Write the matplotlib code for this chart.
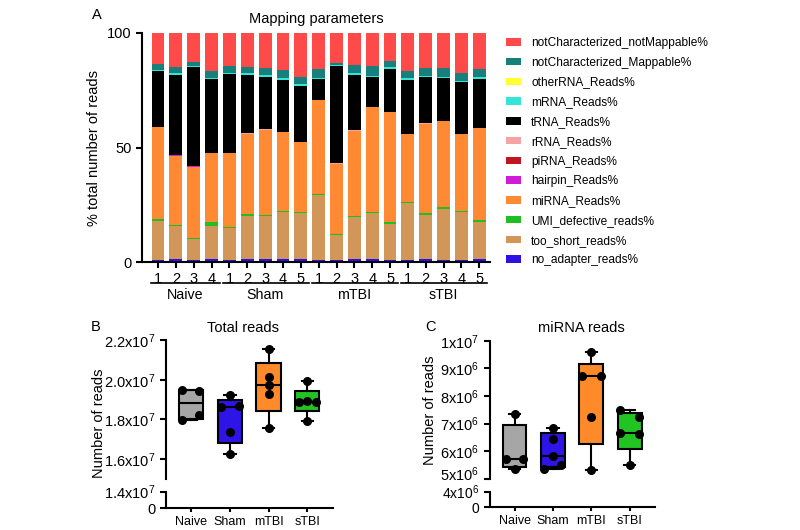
import matplotlib
matplotlib.use('Agg')
import matplotlib.pyplot as plt
import matplotlib.transforms as mtransforms
from matplotlib.patches import Patch
import numpy as np

plt.rcParams['font.family'] = ['Liberation Sans', 'DejaVu Sans']
plt.rcParams['mathtext.fontset'] = 'custom'
plt.rcParams['mathtext.rm'] = 'Liberation Sans'
plt.rcParams['mathtext.it'] = 'Liberation Sans:italic'

# ---- panel A data (percent of reads, bottom to top) ----
groups = ['Naive', 'Sham', 'mTBI', 'sTBI']
group_sizes = [4, 5, 5, 5]
sample_labels = ['1', '2', '3', '4', '1', '2', '3', '4', '5',
                 '1', '2', '3', '4', '5', '1', '2', '3', '4', '5']

no_adapter = [1.0, 1.3, 1.0, 1.4, 1.0, 1.4, 1.1, 1.2, 1.1, 1.0, 1.0, 1.1, 1.1, 0.9, 1.0, 1.3, 1.0, 1.0, 1.2]
too_short = [17.1, 14.3, 9.1, 14.3, 14.0, 18.8, 19.0, 20.6, 20.2, 28.1, 10.7, 18.6, 20.3, 15.9, 24.6, 19.4, 22.3, 20.7, 16.4]
umi_defective = [0.5, 0.6, 0.5, 1.9, 0.5, 0.6, 0.6, 0.6, 0.6, 0.6, 0.4, 0.6, 0.6, 0.5, 0.6, 0.6, 0.6, 0.6, 0.6]
mirna = [40.3, 30.3, 31.1, 29.9, 32.0, 35.2, 37.0, 34.3, 30.4, 40.9, 30.8, 37.0, 45.6, 48.0, 29.5, 39.0, 37.5, 33.5, 40.3]
hairpin = [0.05] * 19
pirna = [0.05] * 19
rrna = [0.1] * 19
trna = [24.1, 35.1, 43.2, 32.2, 34.4, 25.6, 23.1, 22.7, 24.5, 9.1, 42.3, 24.3, 12.8, 18.9, 23.7, 20.1, 18.6, 22.4, 21.3]
mrna = [0.8, 0.7, 0.6, 0.6, 0.6, 0.6, 0.6, 0.6, 0.7, 0.6, 0.6, 0.6, 0.6, 0.6, 0.6, 0.6, 0.6, 0.6, 0.6]
other_rna = [0.05] * 19
nc_mappable = [2.55, 2.55, 1.55, 2.85, 2.65, 2.85, 3.05, 3.45, 3.25, 3.75, 0.85, 3.55, 4.45, 2.55, 3.25, 3.45, 3.65, 3.45, 3.75]
nc_not_mappable = [13.4, 14.9, 12.7, 16.6, 14.6, 14.7, 15.3, 16.3, 19.0, 15.7, 13.1, 14.0, 14.3, 12.4, 16.5, 15.3, 15.5, 17.5, 15.6]

stack = [
    ('no_adapter_reads%', no_adapter, '#2d10e6'),
    ('too_short_reads%', too_short, '#d39659'),
    ('UMI_defective_reads%', umi_defective, '#1fbf22'),
    ('miRNA_Reads%', mirna, '#ff8a33'),
    ('hairpin_Reads%', hairpin, '#d21bd8'),
    ('piRNA_Reads%', pirna, '#c0141e'),
    ('rRNA_Reads%', rrna, '#f5a3a3'),
    ('tRNA_Reads%', trna, '#000000'),
    ('mRNA_Reads%', mrna, '#33e6d6'),
    ('otherRNA_Reads%', other_rna, '#ffff33'),
    ('notCharacterized_Mappable%', nc_mappable, '#17807d'),
    ('notCharacterized_notMappable%', nc_not_mappable, '#ff4a4a'),
]

# ---- panel B / C data ----
box_colors = ['#a6a6a6', '#2e14e6', '#ff8a2a', '#22c424']
total_reads = [
    [1.947e7, 1.945e7, 1.82e7, 1.795e7],
    [1.925e7, 1.862e7, 1.868e7, 1.735e7, 1.625e7],
    [2.155e7, 2.012e7, 1.972e7, 1.93e7, 1.758e7],
    [1.992e7, 1.89e7, 1.892e7, 1.888e7, 1.792e7],
]
total_offsets = [
    [-0.22, 0.22, 0.22, -0.22],
    [0, -0.22, 0.24, 0, 0],
    [0, 0, 0, 0, 0],
    [0, -0.22, 0, 0.22, 0],
]
mirna_reads = [
    [7.36e6, 5.73e6, 5.72e6, 5.35e6],
    [6.85e6, 6.46e6, 5.84e6, 5.52e6, 5.37e6],
    [9.59e6, 8.74e6, 8.72e6, 7.24e6, 5.31e6],
    [7.49e6, 7.25e6, 6.66e6, 6.64e6, 5.51e6],
]
mirna_offsets = [
    [0, -0.22, 0.22, 0],
    [0, 0, 0, 0.22, -0.24],
    [0, -0.24, 0.24, 0, 0],
    [-0.24, 0.24, -0.24, 0.24, 0],
]

b_ticks = [1.6e7, 1.8e7, 2.0e7, 2.2e7]
b_ticklabels = ['1.6x10^{7}', '1.8x10^{7}', '2.0x10^{7}', '2.2x10^{7}']
c_ticks = [5e6, 6e6, 7e6, 8e6, 9e6, 1e7]
c_ticklabels = ['5x10^{6}', '6x10^{6}', '7x10^{6}', '8x10^{6}', '9x10^{6}', '1x10^{7}']

W, H = 800, 530
fig = plt.figure(figsize=(8, 5.3), dpi=100)


def px_axes(x0, y0, x1, y1):
    # pixel box (top-left origin) -> figure axes
    return fig.add_axes([x0 / W, 1 - y1 / H, (x1 - x0) / W, (y1 - y0) / H])


def style(ax, lw=1.5):
    for s in ['top', 'right']:
        ax.spines[s].set_visible(False)
    for s in ['left', 'bottom']:
        ax.spines[s].set_linewidth(lw)
    ax.tick_params(width=lw, length=4, direction='out')


def nudge(label, dy_px):
    label.set_transform(label.get_transform() +
                        mtransforms.ScaledTranslation(0, dy_px / 100, fig.dpi_scale_trans))


# ================= panel A =================
axA = px_axes(142, 33, 490, 262)
style(axA)
x = np.arange(len(sample_labels))
bottom = np.zeros(len(x))
handles = []
for name, vals, col in stack:
    vals = np.array(vals)
    axA.bar(x, vals, 0.72, bottom=bottom, color=col, linewidth=0)
    bottom += vals
    handles.append(Patch(facecolor=col, edgecolor='none', label=name))
axA.set_xlim(-0.9, 18.6)
axA.set_ylim(0, 100)
axA.set_yticks([0, 50, 100])
axA.tick_params(axis='y', labelsize=10.5)
axA.set_xticks(x)
axA.set_xticklabels(sample_labels, fontsize=10.5)
axA.tick_params(axis='x', pad=3)
axA.set_ylabel('% total number of reads', fontsize=10.5, labelpad=4)
axA.set_title('Mapping parameters', fontsize=10.5, pad=7)

trans = mtransforms.blended_transform_factory(axA.transData, axA.transAxes)
start = 0
for g, n in zip(groups, group_sizes):
    axA.plot([start - 0.38, start + n - 1 + 0.45], [-0.092, -0.092], color='black',
             lw=1.2, transform=trans, clip_on=False)
    axA.text(start + (n - 1) / 2, -0.112, g, transform=trans, ha='center', va='top', fontsize=10.3)
    start += n

fig.text(97 / W, 1 - 15 / H, 'A', fontsize=10.5, ha='center', va='center')

fig.legend(handles[::-1], [h.get_label() for h in handles[::-1]],
           loc='upper left', bbox_to_anchor=(506 / W, 1 - 37 / H), frameon=False,
           fontsize=8.6, handlelength=1.25, handleheight=0.6, handletextpad=0.85,
           labelspacing=0.65, borderpad=0, borderaxespad=0)


# ================= panels B and C (broken y axis) =================
def box_stats(vals):
    q1, med, q3 = np.percentile(vals, [25, 50, 75], method='weibull')
    return dict(med=med, q1=q1, q3=q3, whislo=min(vals), whishi=max(vals), fliers=[])


def box_panel(x0, x1, y_top, y_brk, y_lo_top, y_bot, data, offsets, ylim, low_top,
              ticks, ticklabels, low_label, title, title_x, letter, letter_x,
              ylabel_x, ylabel_y, low_size):
    up = px_axes(x0, y_top, x1, y_brk)
    lo = px_axes(x0, y_lo_top, x1, y_bot)
    style(up)
    style(lo)
    up.spines['bottom'].set_visible(False)
    up.tick_params(axis='x', bottom=False, labelbottom=False)

    stats = [box_stats(v) for v in data]
    bp = up.bxp(stats, positions=range(4), widths=0.62, patch_artist=True, showfliers=False,
                capwidths=0.3,
                boxprops=dict(linewidth=1.5, edgecolor='black'),
                medianprops=dict(color='black', linewidth=1.5),
                whiskerprops=dict(color='black', linewidth=1.5),
                capprops=dict(color='black', linewidth=1.5))
    for patch, col in zip(bp['boxes'], box_colors):
        patch.set_facecolor(col)
    for i, (vals, offs) in enumerate(zip(data, offsets)):
        up.scatter(np.array(offs) + i, vals, s=30, color='black', zorder=5, clip_on=False)

    for a in (up, lo):
        a.set_xlim(-0.64, 3.66)
    up.set_ylim(*ylim)
    up.set_yticks(ticks)
    up.set_yticklabels([r'$\mathregular{' + t + '}$' for t in ticklabels], fontsize=10.5)

    lo.set_ylim(0, low_top)
    lo.set_yticks([0, low_top])
    lo.set_yticklabels(['0', r'$\mathregular{' + low_label + '}$'], fontsize=low_size)
    lo.set_xticks(range(4))
    lo.set_xticklabels(groups, fontsize=9)
    lo.tick_params(axis='x', length=3, pad=3)

    fig.text(title_x / W, 1 - 328 / H, title, fontsize=10.5, ha='center', va='center')
    fig.text(letter_x / W, 1 - 327 / H, letter, fontsize=10.5, ha='center', va='center')
    fig.text(ylabel_x / W, 1 - ylabel_y / H, 'Number of reads', fontsize=10.5,
             rotation=90, ha='center', va='center')
    return up, lo


upB, loB = box_panel(166, 333, 340, 479, 492, 508, total_reads, total_offsets, (1.5e7, 2.2e7), 1.4e7,
                     b_ticks, b_ticklabels, '1.4x10^{7}', 'Total reads', 243, 'B', 96, 99, 423, 10.5)
upC, loC = box_panel(490, 655, 340.7, 479, 491.7, 506.7, mirna_reads, mirna_offsets, (5e6, 1e7), 4e6,
                     c_ticks, c_ticklabels, '4x10^{6}', 'miRNA reads', 581, 'C', 430, 430, 410, 10)

# the 5x10^6 label sits a little above its tick in the original; keep the
# tightly packed labels of the lower segment apart
nudge(upC.get_yticklabels()[0], 6)
nudge(loC.get_yticklabels()[0], -1)
nudge(loB.get_yticklabels()[1], 1)

fig.savefig('out.png', dpi=100)
